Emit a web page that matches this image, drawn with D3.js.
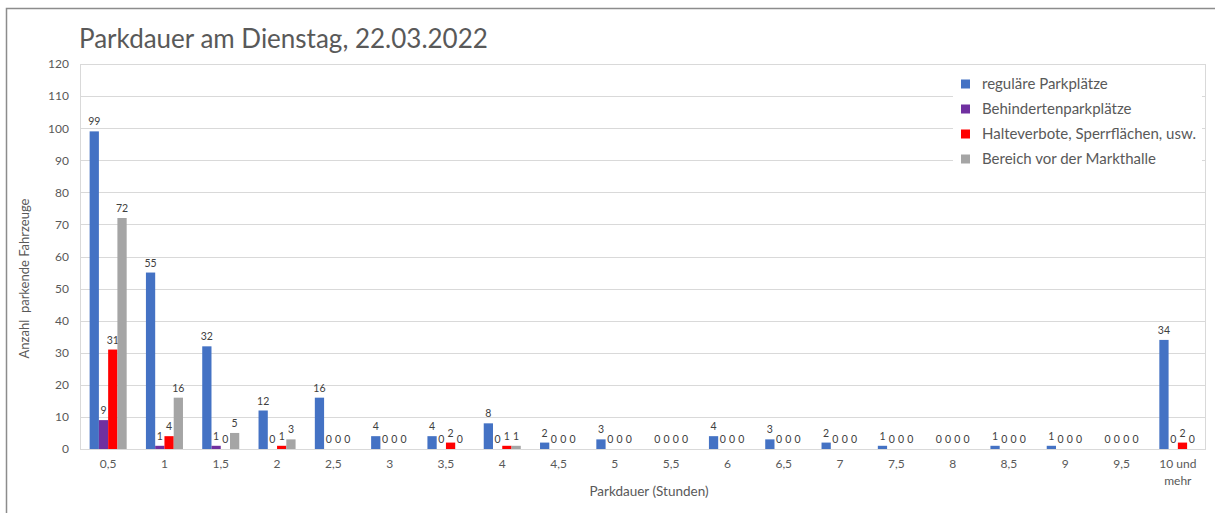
<!DOCTYPE html>
<html>
<head>
<meta charset="utf-8">
<script src="https://cdn.jsdelivr.net/npm/d3@7"></script>
<style>
  html, body { margin: 0; padding: 0; background: #fff; }
  svg { display: block; font-family: Lato, "Liberation Sans", sans-serif; }
</style>
</head>
<body>
<svg id="chart" width="1215" height="513"></svg>
<script>
const title = "Parkdauer am Dienstag, 22.03.2022";
const categories = ["0,5","1","1,5","2","2,5","3","3,5","4","4,5","5","5,5","6","6,5","7","7,5","8","8,5","9","9,5","10 und mehr"];
const seriesNames = ["reguläre Parkplätze","Behindertenparkplätze","Halteverbote, Sperrflächen, usw.","Bereich vor der Markthalle"];
const regulaere   = [99,55,32,12,16,4,4,8,2,3,0,4,3,2,1,0,1,1,0,34];
const behinderten = [9,1,1,0,0,0,0,0,0,0,0,0,0,0,0,0,0,0,0,0];
const halteverbot = [31,4,0,1,0,0,2,1,0,0,0,0,0,0,0,0,0,0,0,2];
const markthalle  = [72,16,5,3,0,0,0,1,0,0,0,0,0,0,0,0,0,0,0,0];
const yTicks = [0,10,20,30,40,50,60,70,80,90,100,110,120];
const colors = ["#4472C4","#7030A0","#FF0000","#A5A5A5"];
const yTitle = "Anzahl  parkende Fahrzeuge";
const xTitle = "Parkdauer (Stunden)";

const seriesValues = [regulaere, behinderten, halteverbot, markthalle];

const svg = d3.select("#chart");
const pLeft = 80, pRight = 1206, pTop = 64, pBottom = 449;

// outer frame
svg.append("path").attr("d", `M6.5,513 L6.5,8.5 L1215,8.5`)
  .attr("fill","none").attr("stroke","#8c8c8c").attr("stroke-width",1.5);

const x = d3.scaleBand().domain(categories).range([pLeft, pRight]).padding(0);
const xs = d3.scaleBand().domain(d3.range(4)).range([0, x.bandwidth()]).paddingInner(0).paddingOuter(1.04);
const y = d3.scaleLinear().domain([0,120]).range([pBottom, pTop]);

// gridlines
svg.append("g").selectAll("line").data(yTicks).join("line")
  .attr("x1", pLeft).attr("x2", pRight)
  .attr("y1", d => Math.round(y(d))+0.5).attr("y2", d => Math.round(y(d))+0.5)
  .attr("stroke","#d9d9d9").attr("stroke-width",1);

// plot border
svg.append("rect").attr("x", pLeft+0.5).attr("y", pTop+0.5)
  .attr("width", pRight-pLeft-1).attr("height", pBottom-pTop)
  .attr("fill","none").attr("stroke","#d9d9d9");

// y axis labels
const yAxis = d3.axisLeft(y).tickValues(yTicks).tickSize(0).tickPadding(11);
const yg = svg.append("g").attr("transform",`translate(${pLeft},0)`).call(yAxis);
yg.select(".domain").remove();
yg.selectAll("text").attr("font-size",12).attr("fill","#595959").attr("font-family","Lato, sans-serif");

// x axis labels
const xAxis = d3.axisBottom(x).tickSize(0).tickPadding(10);
const xg = svg.append("g").attr("transform",`translate(0,${pBottom})`).call(xAxis);
xg.select(".domain").remove();
xg.selectAll("text").attr("font-size",12).attr("fill","#595959").attr("font-family","Lato, sans-serif")
  .each(function(d){
    const words = d.split(" ");
    if (words.length > 2) {
      const t = d3.select(this);
      t.text(null);
      t.append("tspan").attr("x",0).attr("dy","0.71em").text(words.slice(0,2).join(" "));
      t.append("tspan").attr("x",0).attr("dy","1.45em").text(words.slice(2).join(" "));
      t.attr("dy", null);
    }
  });

// bars
const groups = svg.append("g");
seriesValues.forEach((vals, si) => {
  const g = groups.append("g");
  g.selectAll("rect").data(vals).join("rect")
    .attr("x", (d,i) => x(categories[i]) + xs(si))
    .attr("width", xs.bandwidth())
    .attr("y", d => y(d))
    .attr("height", d => pBottom - y(d))
    .attr("fill", colors[si]);
  g.selectAll("text").data(vals).join("text")
    .attr("x", (d,i) => x(categories[i]) + xs(si) + xs.bandwidth()/2)
    .attr("y", d => y(d) - 6)
    .attr("text-anchor","middle")
    .attr("font-size",10.5)
    .attr("fill","#404040")
    .text(d => d);
});

// title
svg.append("text").attr("x", 79).attr("y", 48).attr("font-size",26)
  .attr("fill","#595959").text(title);

// axis titles
svg.append("text").attr("transform",`translate(29,${(pTop+pBottom)/2 + 22}) rotate(-90)`)
  .attr("text-anchor","middle").attr("font-size",13).attr("fill","#595959")
  .style("white-space","pre").text(yTitle);
svg.append("text").attr("x",(pLeft+pRight)/2 + 6).attr("y",496)
  .attr("text-anchor","middle").attr("font-size",13.5).attr("fill","#595959").text(xTitle);

// legend
const lg = svg.append("g");
lg.append("rect").attr("x",953).attr("y",70).attr("width",249).attr("height",102).attr("fill","#fff");
seriesNames.forEach((n,i) => {
  const cy = 84 + i*25;
  lg.append("rect").attr("x",961).attr("y",cy-4.5).attr("width",9).attr("height",9).attr("fill",colors[i]);
  lg.append("text").attr("x",982).attr("y",cy).attr("dy","0.35em").attr("font-size",15)
    .attr("fill","#595959").text(n);
});
</script>
</body>
</html>
